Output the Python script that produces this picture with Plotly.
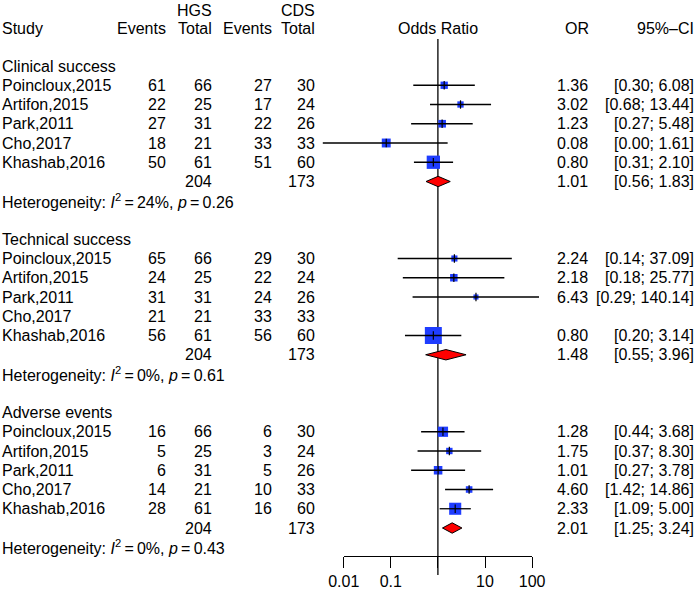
import numpy as np
import plotly.graph_objects as go

# ---------------- data ----------------
studies = ["Poincloux,2015", "Artifon,2015", "Park,2011", "Cho,2017", "Khashab,2016"]
groups = ["Clinical success", "Technical success", "Adverse events"]

hgs_total = [66, 25, 31, 21, 61]
cds_total = [30, 24, 26, 33, 60]

hgs_events = {
    "Clinical success": [61, 22, 27, 18, 50],
    "Technical success": [65, 24, 31, 21, 56],
    "Adverse events": [16, 5, 6, 14, 28],
}
cds_events = {
    "Clinical success": [27, 17, 22, 33, 51],
    "Technical success": [29, 22, 24, 33, 56],
    "Adverse events": [6, 3, 5, 10, 16],
}
odds_ratio = {
    "Clinical success": [1.36, 3.02, 1.23, 0.08, 0.80],
    "Technical success": [2.24, 2.18, 6.43, None, 0.80],
    "Adverse events": [1.28, 1.75, 1.01, 4.60, 2.33],
}
ci_lower = {
    "Clinical success": [0.30, 0.68, 0.27, 0.0036, 0.31],
    "Technical success": [0.14, 0.18, 0.29, None, 0.20],
    "Adverse events": [0.44, 0.37, 0.27, 1.42, 1.09],
}
ci_upper = {
    "Clinical success": [6.08, 13.44, 5.48, 1.61, 2.10],
    "Technical success": [37.09, 25.77, 140.14, None, 3.14],
    "Adverse events": [3.68, 8.30, 3.78, 14.86, 5.00],
}
pooled_or = [1.01, 1.48, 2.01]
pooled_lower = [0.56, 0.55, 1.25]
pooled_upper = [1.83, 3.96, 3.24]
het_i2 = [24, 0, 0]
het_p = [0.26, 0.61, 0.43]
hgs_sum = [204, 204, 204]
cds_sum = [173, 173, 173]

tick_vals = [0.01, 0.1, 1, 10, 100]
tick_text = ["0.01", "0.1", "", "10", "100"]

# ---------------- layout constants (window pixels) ----------------
W, H = 696, 593
X0 = 437.9      # pixel of OR = 1
DEC = 47.1      # pixels per decade
ROW0 = 66.0     # pixel of first group header
ROWH = 19.25    # row height
FONT = "Liberation Sans, Arial, Helvetica, sans-serif"
FS = 16
BLUE = "#1f3dff"
RED = "#ff0000"


def px(xp):
    return xp / W


def py(yp):
    return 1 - yp / H


def mh_weights(a, n1, c, n2):
    w = []
    for ai, n1i, ci, n2i in zip(a, n1, c, n2):
        b, d = n1i - ai, n2i - ci
        if (ai == 0 and ci == 0) or (b == 0 and d == 0):
            w.append(None)
            continue
        if 0 in (ai, b, ci, d):
            ai, b, ci, d = ai + .5, b + .5, ci + .5, d + .5
        w.append(b * ci / (ai + b + ci + d))
    tot = sum(x for x in w if x is not None)
    return [None if x is None else 100 * x / tot for x in w]


fig = go.Figure()
ann = []


def text(x, r, s, anchor="left"):
    ann.append(dict(x=px(x), y=r, xref="paper", yref="y", text=s, showarrow=False,
                    xanchor=anchor, yanchor="middle", borderpad=0, borderwidth=0,
                    font=dict(family=FONT, size=FS, color="black")))


# headers
text(212, -2.9, "HGS", "right")
text(315, -2.9, "CDS", "right")
text(2, -1.94, "Study")
text(166, -1.94, "Events", "right")
text(212, -1.94, "Total", "right")
text(272, -1.94, "Events", "right")
text(315, -1.94, "Total", "right")
text(X0, -1.94, "Odds Ratio", "center")
text(589, -1.94, "OR", "right")
text(694, -1.94, "95%\u2013CI", "right")

ci_x, ci_y = [], []
tk_x, tk_y = [], []
sq_x, sq_y, sq_s = [], [], []

for gi, g in enumerate(groups):
    base = gi * 9
    text(2, base, g)
    wts = mh_weights(hgs_events[g], hgs_total, cds_events[g], cds_total)
    for i, s in enumerate(studies):
        r = base + 1 + i
        text(2, r, s)
        text(166, r, str(hgs_events[g][i]), "right")
        text(212, r, str(hgs_total[i]), "right")
        text(272, r, str(cds_events[g][i]), "right")
        text(315, r, str(cds_total[i]), "right")
        o = odds_ratio[g][i]
        if o is None:
            continue
        lo, hi = ci_lower[g][i], ci_upper[g][i]
        text(588, r, f"{o:.2f}", "right")
        text(694, r, f"[{lo:.2f}; {hi:.2f}]", "right")
        ci_x += [lo, hi, None]
        ci_y += [r, r, None]
        tk_x.append(o)
        tk_y.append(r)
        sq_x.append(o)
        sq_y.append(r)
        sq_s.append(2.02 * np.sqrt(wts[i]))
    # pooled
    r = base + 6
    text(212, r, str(hgs_sum[gi]), "right")
    text(315, r, str(cds_sum[gi]), "right")
    text(588, r, f"{pooled_or[gi]:.2f}", "right")
    text(694, r, f"[{pooled_lower[gi]:.2f}; {pooled_upper[gi]:.2f}]", "right")
    h = 0.27
    fig.add_trace(go.Scatter(
        x=[pooled_lower[gi], pooled_or[gi], pooled_upper[gi], pooled_or[gi], pooled_lower[gi]],
        y=[r, r - h, r, r + h, r], mode="lines", fill="toself", fillcolor=RED,
        line=dict(color="black", width=1), hoverinfo="skip", showlegend=False))
    # heterogeneity
    text(2, base + 7,
         f"Heterogeneity: <i>I</i><sup>2</sup>\u2009=\u2009{het_i2[gi]}%, <i>p</i>\u2009=\u2009{het_p[gi]:.2f}")

fig.add_trace(go.Scatter(x=sq_x, y=sq_y, mode="markers",
                         marker=dict(symbol="square", size=sq_s, color=BLUE, opacity=1,
                                     line=dict(width=0)),
                         hoverinfo="skip", showlegend=False))
fig.add_trace(go.Scatter(x=ci_x, y=ci_y, mode="lines", line=dict(color="black", width=1.3),
                         hoverinfo="skip", showlegend=False))
fig.add_trace(go.Scatter(x=tk_x, y=tk_y, mode="markers",
                         marker=dict(symbol="line-ns", size=6, opacity=1,
                                     line=dict(color="black", width=1.2)),
                         hoverinfo="skip", showlegend=False))

# bottom axis (only 0.01 .. 100)
fig.add_trace(go.Scatter(x=[0.01, 100], y=[0, 0], xaxis="x2", yaxis="y2", mode="markers",
                         marker=dict(opacity=0), hoverinfo="skip", showlegend=False))

axis_px = 555.5
fig.update_layout(
    template="none",
    width=W, height=H,
    margin=dict(l=0, r=0, t=0, b=0, pad=0, autoexpand=False),
    paper_bgcolor="white", plot_bgcolor="rgba(0,0,0,0)",
    showlegend=False,
    xaxis=dict(type="log", domain=[0, 1], range=[-X0 / DEC, (W - X0) / DEC],
               visible=False, automargin=False),
    yaxis=dict(range=[(H - ROW0) / ROWH, -ROW0 / ROWH], domain=[0, 1],
               visible=False, automargin=False),
    xaxis2=dict(type="log", anchor="y2", domain=[px(X0 - 2 * DEC), px(X0 + 2 * DEC)],
                range=[-2, 2], showline=True, linecolor="black", linewidth=1.3,
                ticks="outside", ticklen=11, tickwidth=1.3, tickcolor="black",
                tickvals=tick_vals, ticktext=tick_text, showgrid=False, zeroline=False,
                automargin=False,
                tickfont=dict(family=FONT, size=FS, color="black")),
    yaxis2=dict(domain=[py(axis_px), py(axis_px) + 0.01], visible=False, range=[0, 1],
                automargin=False),
    annotations=ann,
    shapes=[dict(type="line", xref="x", yref="paper", x0=1, x1=1,
                 y0=py(575), y1=py(39), line=dict(color="black", width=1.3), layer="below")],
)

fig.write_html("out.html", config={"displayModeBar": False},
               post_script="document.body.style.margin='0';document.body.style.overflow='hidden';")
